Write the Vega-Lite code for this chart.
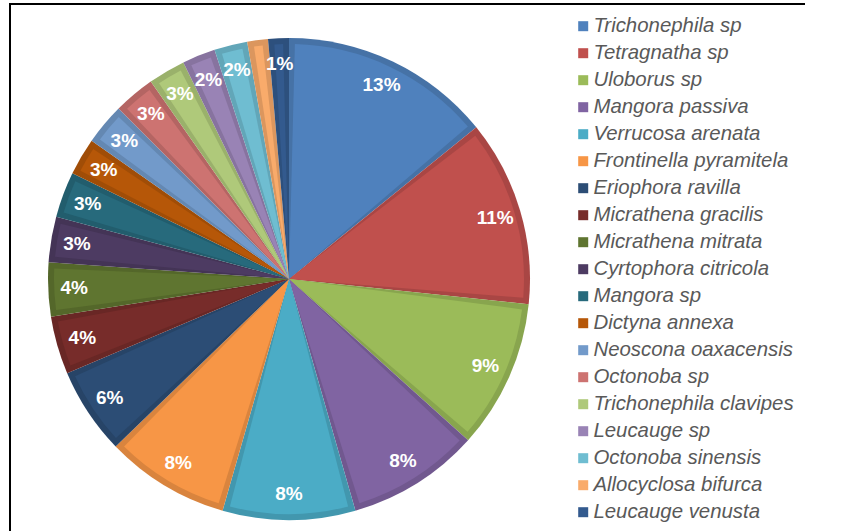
{
  "$schema": "https://vega.github.io/schema/vega-lite/v6.json",
  "autosize": "none",
  "padding": {"left": 10, "top": 4, "right": 276, "bottom": 0},
  "width": 558,
  "height": 550,
  "background": "white",
  "view": {"stroke": "black", "strokeWidth": 2, "strokeDash": [558, 1108, 550]},
  "config": {
    "legend": {"strokeDash": [290, 3000], "strokeWidth": 2}
  },
  "data": {
    "values": [
      {"idx": 1, "species": "Trichonephila sp", "value": 51, "label": "13%"},
      {"idx": 2, "species": "Tetragnatha sp", "value": 45, "label": "11%"},
      {"idx": 3, "species": "Uloborus sp", "value": 36, "label": "9%"},
      {"idx": 4, "species": "Mangora passiva", "value": 32, "label": "8%"},
      {"idx": 5, "species": "Verrucosa arenata", "value": 32, "label": "8%"},
      {"idx": 6, "species": "Frontinella pyramitela", "value": 30, "label": "8%"},
      {"idx": 7, "species": "Eriophora ravilla", "value": 21, "label": "6%"},
      {"idx": 8, "species": "Micrathena gracilis", "value": 14, "label": "4%"},
      {"idx": 9, "species": "Micrathena mitrata", "value": 13, "label": "4%"},
      {"idx": 10, "species": "Cyrtophora citricola", "value": 11, "label": "3%"},
      {"idx": 11, "species": "Mangora sp", "value": 11, "label": "3%"},
      {"idx": 12, "species": "Dictyna annexa", "value": 9, "label": "3%"},
      {"idx": 13, "species": "Neoscona oaxacensis", "value": 10, "label": "3%"},
      {"idx": 14, "species": "Octonoba sp", "value": 10, "label": "3%"},
      {"idx": 15, "species": "Trichonephila clavipes", "value": 9, "label": "3%"},
      {"idx": 16, "species": "Leucauge sp", "value": 8, "label": "2%"},
      {"idx": 17, "species": "Octonoba sinensis", "value": 8, "label": "2%"},
      {"idx": 18, "species": "Allocyclosa bifurca", "value": 5, "label": ""},
      {"idx": 19, "species": "Leucauge venusta", "value": 5, "label": "1%"}
    ]
  },
  "encoding": {
    "theta": {"field": "value", "type": "quantitative", "stack": true},
    "order": {"field": "idx", "type": "quantitative"}
  },
  "layer": [
    {
      "mark": {"type": "arc", "radius": 241},
      "encoding": {
        "color": {
          "field": "species", "type": "nominal", "legend": null,
          "scale": {
            "domain": ["Trichonephila sp", "Tetragnatha sp", "Uloborus sp", "Mangora passiva", "Verrucosa arenata", "Frontinella pyramitela", "Eriophora ravilla", "Micrathena gracilis", "Micrathena mitrata", "Cyrtophora citricola", "Mangora sp", "Dictyna annexa", "Neoscona oaxacensis", "Octonoba sp", "Trichonephila clavipes", "Leucauge sp", "Octonoba sinensis", "Allocyclosa bifurca", "Leucauge venusta"],
            "range": ["#4672A6", "#A94644", "#88A54E", "#71588F", "#4297AE", "#D9843E", "#274467", "#692725", "#54672A", "#443456", "#225D6D", "#A04D07", "#6488B2", "#B46563", "#9AB16B", "#87739F", "#62A6B8", "#DB965E", "#2D507D"]
          }
        }
      }
    },
    {
      "mark": {"type": "arc", "radius": 235, "padAngle": 0.05},
      "encoding": {
        "color": {
          "field": "species", "type": "nominal",
          "scale": {
            "domain": ["Trichonephila sp", "Tetragnatha sp", "Uloborus sp", "Mangora passiva", "Verrucosa arenata", "Frontinella pyramitela", "Eriophora ravilla", "Micrathena gracilis", "Micrathena mitrata", "Cyrtophora citricola", "Mangora sp", "Dictyna annexa", "Neoscona oaxacensis", "Octonoba sp", "Trichonephila clavipes", "Leucauge sp", "Octonoba sinensis", "Allocyclosa bifurca", "Leucauge venusta"],
            "range": ["#4F81BD", "#C0504D", "#9BBB59", "#8064A2", "#4BACC6", "#F79646", "#2C4D75", "#772C2A", "#5F7530", "#4D3B62", "#276A7C", "#B65708", "#729ACA", "#CD7371", "#AFC97A", "#9983B5", "#6FBDD1", "#F9AB6B", "#335A8E"]
          },
          "legend": {
            "orient": "none",
            "legendX": 505,
            "legendY": 0,
            "title": null,
            "symbolType": "square",
            "symbolSize": 100,
            "symbolStrokeWidth": 0,
            "symbolOffset": 46,
            "labelFont": "Liberation Sans",
            "labelFontSize": 20.4,
            "labelFontStyle": "italic",
            "labelColor": "#595959",
            "labelLimit": 400,
            "labelOffset": 0,
            "rowPadding": 6,
            "padding": 12,
            "strokeColor": "black"
          }
        }
      }
    },
    {
      "mark": {"type": "text", "radius": 215, "font": "Liberation Sans", "fontSize": 19, "fontWeight": "bold", "fill": "white"},
      "encoding": {"text": {"field": "label", "type": "nominal"}}
    }
  ],
  "resolve": {"scale": {"color": "independent"}}
}
